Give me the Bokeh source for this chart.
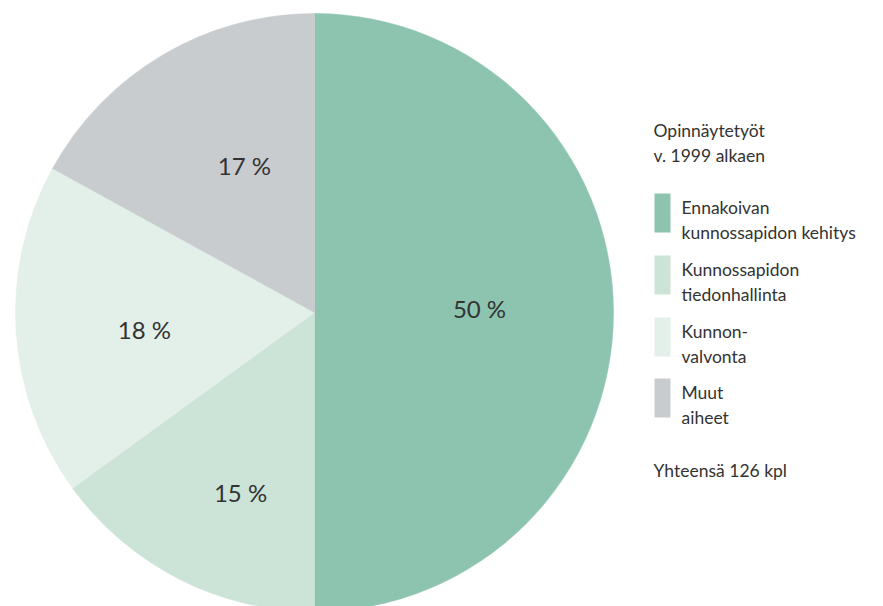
import math
from bokeh.plotting import figure
from bokeh.models import Range1d, ColumnDataSource
from bokeh.core.properties import value
from bokeh.embed import file_html
from bokeh.resources import INLINE

# ---- data ----
categories = ["Ennakoivan\nkunnossapidon kehitys", "Kunnossapidon\ntiedonhallinta",
              "Kunnon-\nvalvonta", "Muut\naiheet"]
shares = [50, 15, 18, 17]
pct_labels = ["50 %", "15 %", "18 %", "17 %"]
title_lines = ["Opinnäytetyöt", "v. 1999 alkaen"]
total_text = "Yhteensä 126 kpl"
colors = ["#8DC4B0", "#CCE3D8", "#E3EFE9", "#C9CCCF"]

# ---- layout ----
W, H = 883, 606
FONT = value("Lato")
TXT = "#333333"
cx, cy, R = 314, H - 312, 299
label_rf = [0.552, 0.652, 0.572, 0.545]
label_da = [1.4, 4.7, 2.1, -5.1]  # degrees, label angle tweak


def py(page_y):
    return H - page_y


p = figure(width=W, height=H, x_range=Range1d(0, W), y_range=Range1d(0, H),
           output_backend="svg", toolbar_location=None, min_border=0,
           x_axis_type=None, y_axis_type=None)
p.grid.visible = False
p.outline_line_color = None
p.background_fill_color = "white"
p.border_fill_color = "white"

total = sum(shares)
starts, ends, lx, ly = [], [], [], []
cum = 0.0
for i, s in enumerate(shares):
    a0 = math.pi / 2 - 2 * math.pi * cum / total
    cum += s
    a1 = math.pi / 2 - 2 * math.pi * cum / total
    starts.append(a0)
    ends.append(a1)
    mid = (a0 + a1) / 2 + math.radians(label_da[i])
    lx.append(cx + label_rf[i] * R * math.cos(mid))
    ly.append(cy + label_rf[i] * R * math.sin(mid))

src = ColumnDataSource(dict(start=starts, end=ends, color=colors))
p.wedge(x=cx, y=cy, radius=R, start_angle="start", end_angle="end",
        direction="clock", fill_color="color", line_color="color", line_width=0.5,
        source=src)

p.text(x=lx, y=ly, text=pct_labels, text_font=FONT, text_font_size="24px",
       text_color=TXT, text_align="center", text_baseline="middle")

# legend (right side)
tx = 653
p.text(x=[tx, tx], y=[py(130), py(155)], text=title_lines, text_font=FONT,
       text_font_size="17.5px", text_color=TXT, text_baseline="alphabetic")

sq_tops = [193, 255, 317, 378]
for i, cat in enumerate(categories):
    top = py(sq_tops[i])
    p.quad(left=654, right=670, top=top, bottom=top - 39,
           fill_color=colors[i], line_color=None)
    lines = cat.split("\n")
    p.text(x=[681] * len(lines), y=[top - 14 - 25 * k for k in range(len(lines))],
           text=lines, text_font=FONT, text_font_size="17.5px", text_color=TXT,
           text_baseline="alphabetic")

p.text(x=[tx], y=[py(470)], text=[total_text], text_font=FONT,
       text_font_size="17.5px", text_color=TXT, text_baseline="alphabetic")

open("out.html", "w").write(file_html(p, INLINE))
